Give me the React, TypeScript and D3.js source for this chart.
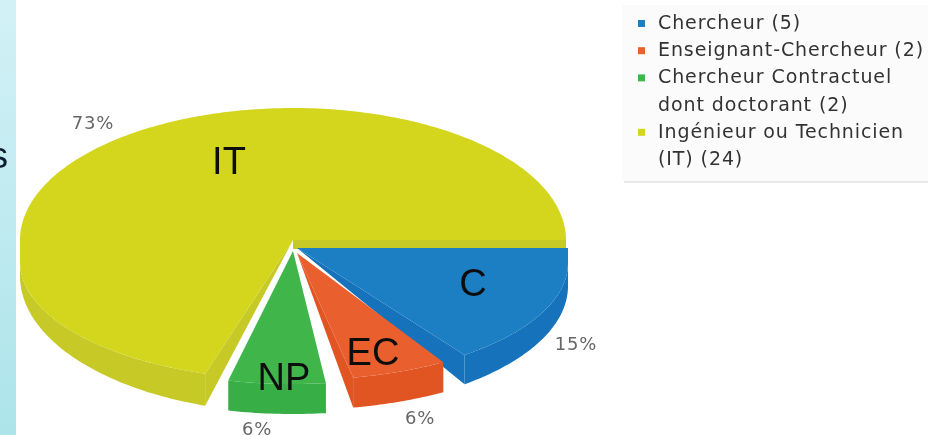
import React from "react";
import * as d3 from "d3";

const categories = ["C", "EC", "NP", "IT"];
const counts = [5, 2, 2, 24];
const percents = ["15%", "6%", "6%", "73%"];
const topColors = ["#1e7fc4", "#ea5f2d", "#41b54a", "#d3d61f"];
const wallColors = ["#1272bb", "#e05524", "#39ae46", "#c7ca25"];
const legendLines = [
  { text: "Chercheur (5)", swatch: 0 },
  { text: "Enseignant-Chercheur (2)", swatch: 1 },
  { text: "Chercheur Contractuel", swatch: 2 },
  { text: "dont doctorant (2)", swatch: -1 },
  { text: "Ingénieur ou Technicien", swatch: 3 },
  { text: "(IT) (24)", swatch: -1 },
];
const centers: [number, number][] = [[297, 248], [297, 253], [293, 251], [293, 240]];
const radiusX = [271, 271, 272, 273];
const radiusBack = 132;
const radiusFront = [117, 112, 118, 118];
const frontDrop = [15, 15, 15, 22];
const depthBase = [23, 30, 30, 14];
const depthGrow = [8, 0, 0, 19];
const angleNudge = [0, 1, 1.5, 2];
const pctPos: [number, number][] = [[576, 350], [420, 424], [257, 435], [93, 129]];
const namePos: [number, number][] = [[473, 296], [373, 365], [284, 390], [229, 174]];

const deg = Math.PI / 180;
const EAST = Math.PI / 2;
const PAD = 4.5 * deg;

const pie = d3.pie<number>().sort(null)
  .startAngle(EAST).endAngle(EAST + 2 * Math.PI).padAngle(PAD);
const arcs = pie(counts).map((a, i) => ({
  start: a.startAngle + angleNudge[i] * deg,
  end: i === counts.length - 1 ? EAST + 2 * Math.PI : a.endAngle - PAD + angleNudge[i] * deg,
}));

type P = { x: number; y: number; d: number };

function rimPoint(a: number, i: number): P {
  const s = Math.sin(a - EAST); // > 0 on the front half
  const front = s >= -1e-9 && a < EAST + Math.PI + 1e-9;
  const x = centers[i][0] + radiusX[i] * Math.sin(a);
  if (front) {
    const sv = Math.max(s, 0);
    return { x, y: centers[i][1] + frontDrop[i] + radiusFront[i] * sv, d: depthBase[i] + depthGrow[i] * sv };
  }
  return { x, y: centers[i][1] - radiusBack * Math.cos(a), d: 0 };
}

function samples(a0: number, a1: number, i: number): P[] {
  const n = Math.max(2, Math.ceil((a1 - a0) / deg));
  return d3.range(0, n + 1).map(k => rimPoint(a0 + (a1 - a0) * k / n, i));
}

const line = d3.line<P>().x(d => d.x).y(d => d.y);
const band = d3.area<P>().x(d => d.x).y0(d => d.y).y1(d => d.y + d.d);

function facePath(i: number) {
  const { start, end } = arcs[i];
  const c = centers[i];
  const apex: P = { x: c[0], y: c[1], d: 0 };
  const pts = samples(start, end, i);
  const head: P[] = i === 0 ? [apex, { x: c[0] + radiusX[i], y: c[1], d: 0 }] : [apex];
  return line([...head, ...pts]) + "Z";
}
function rimPath(i: number) {
  const s = Math.max(arcs[i].start, EAST);
  const e = Math.min(arcs[i].end, EAST + Math.PI);
  return e > s ? band(samples(s, e, i)) || "" : "";
}
function edgeWall(i: number, a: number) {
  const c = centers[i];
  const p = rimPoint(a, i);
  return band([{ x: c[0], y: c[1], d: 0 }, p]) || "";
}
function backStrip() {
  const i = 3;
  const c = centers[i];
  return band([
    { x: c[0], y: c[1], d: 9 },
    { x: c[0] + radiusX[i], y: c[1], d: 9 },
  ]) || "";
}

export default function App() {
  const order = [3, 0, 1, 2];
  return (
    <svg width={942} height={435} viewBox="0 0 942 435"
      style={{ position: "fixed", left: 0, top: 0, background: "#fff", display: "block" }}>
      <defs>
        <linearGradient id="strip" x1="0" y1="0" x2="0" y2="1">
          <stop offset="0" stopColor="#d2f1f6" />
          <stop offset="1" stopColor="#ace4ea" />
        </linearGradient>
        <filter id="soft" x="-5%" y="-5%" width="110%" height="110%">
          <feGaussianBlur stdDeviation="0.7" />
        </filter>
        <filter id="softer" x="-5%" y="-5%" width="110%" height="110%">
          <feGaussianBlur stdDeviation="0.45" />
        </filter>
        <clipPath id="stripClip"><rect x={0} y={0} width={16} height={435} /></clipPath>
      </defs>
      <rect x={0} y={0} width={16} height={435} fill="url(#strip)" />
      <g clipPath="url(#stripClip)">
        <text x={-10} y={168} fontFamily="Liberation Sans" fontSize={36} fill="#0b1c33" filter="url(#softer)">s</text>
      </g>

      <g filter="url(#softer)">
        {order.map(i => (
          <g key={categories[i]}>
            {i === 3 && <path d={backStrip()} fill={wallColors[i]} />}
            {i !== 3 && i !== 2 && <path d={edgeWall(i, arcs[i].end)} fill={wallColors[i]} />}
            {i === 3 && <path d={edgeWall(i, arcs[i].start)} fill={wallColors[i]} />}
            <path d={rimPath(i)} fill={wallColors[i]} />
            <path d={facePath(i)} fill={topColors[i]} />
          </g>
        ))}
      </g>

      <g filter="url(#softer)">
        {categories.map((n, i) => (
          <text key={n} x={namePos[i][0]} y={namePos[i][1]} textAnchor="middle"
            fontFamily="Liberation Sans" fontSize={38} fill="#111">{n}</text>
        ))}
      </g>
      <g filter="url(#soft)">
        {percents.map((p, i) => (
          <text key={i} x={pctPos[i][0]} y={pctPos[i][1]} textAnchor="middle"
            fontFamily="DejaVu Sans" fontSize={18} letterSpacing={0.8} fill="#666">{p}</text>
        ))}
      </g>

      <rect x={624} y={8} width={304} height={175} fill="#e9e9e9" filter="url(#soft)" />
      <rect x={622} y={5} width={306} height={176} fill="#fbfbfb" />
      <g filter="url(#soft)">
        {legendLines.map((l, i) => (
          <g key={l.text}>
            {l.swatch >= 0 && (
              <rect x={638} y={20 + i * 27.2} width={7} height={7} fill={topColors[l.swatch]} />
            )}
            <text x={658} y={29 + i * 27.2} fontFamily="DejaVu Sans" fontSize={19} letterSpacing={0.9} fill="#333">{l.text}</text>
          </g>
        ))}
      </g>
    </svg>
  );
}
